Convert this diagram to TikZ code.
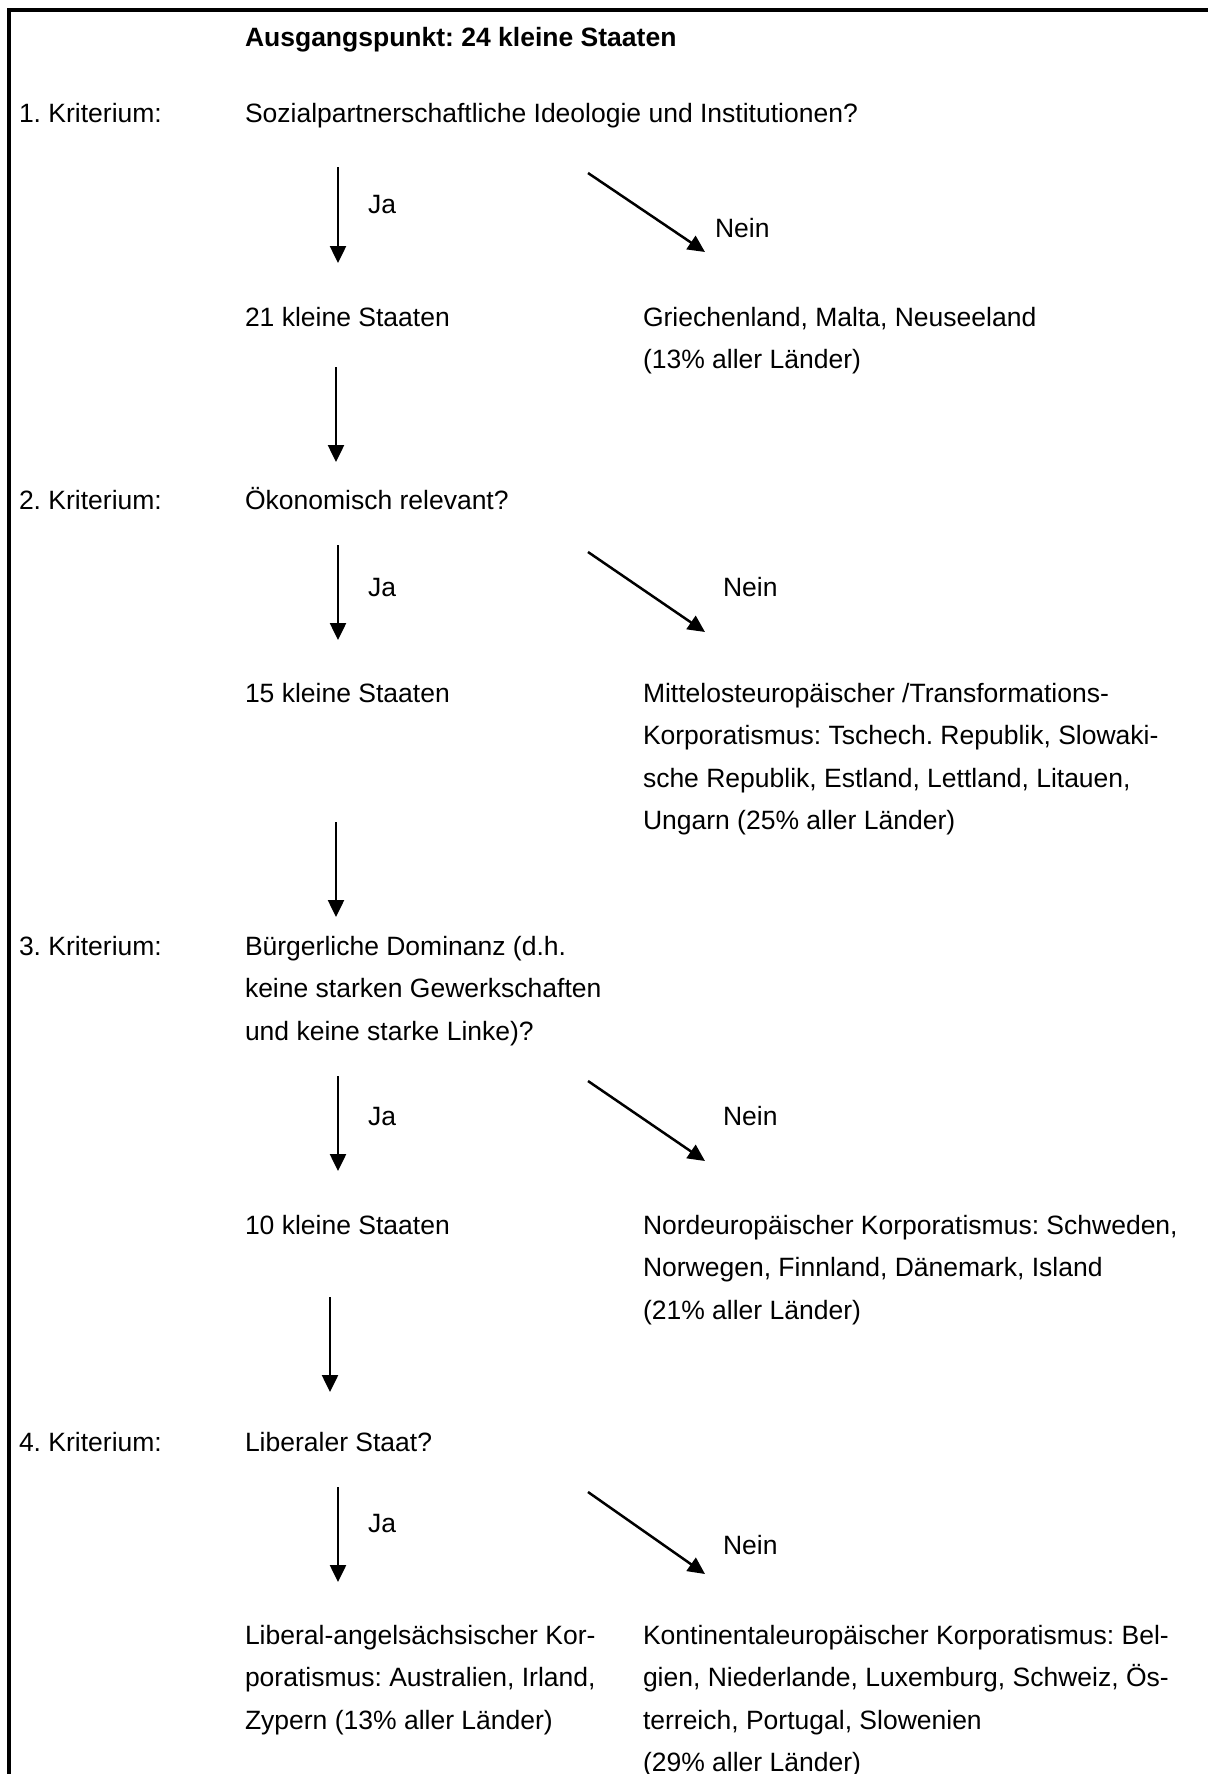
\documentclass[tikz,border=0pt]{standalone}
\usepackage{fontspec}
\setmainfont{Liberation Sans}
\usetikzlibrary{arrows.meta}
\frenchspacing
\begin{document}
\begin{tikzpicture}[x=1pt,y=-1pt,
  txt/.style={anchor=base west,inner sep=0pt,outer sep=0pt,font=\fontsize{26.5}{42.5}\selectfont},
  ttl/.style={txt,font=\fontsize{26.5}{42.5}\selectfont\bfseries},
  arr/.style={line width=2.5pt,-{Triangle[length=17pt,width=16pt]}},
  frame/.style={line width=3.5pt}]
\useasboundingbox (0,0) rectangle (1208,1774);
% frame
\coordinate (fb) at (9,1774);
\coordinate (ft) at (9,10);
\coordinate (fr) at (1208,10);
\draw[frame] (fb) -- (ft) -- (fr);
% texts
\newcommand{\lns}[1]{\begin{tabular}[t]{@{}l@{}}#1\end{tabular}}
\node[ttl] (title) at (245,47) {Ausgangspunkt: 24 kleine Staaten};
\node[txt] (k1) at (19,123) {1. Kriterium:};
\node[txt] (q1) at (245,123) {Sozialpartnerschaftliche Ideologie und Institutionen?};
\node[txt] (ja1) at (368,213) {Ja};
\node[txt] (nein1) at (715,237) {Nein};
\node[txt] (s21) at (245,326) {21 kleine Staaten};
\node[txt] (gr) at (643,326) {\lns{Griechenland, Malta, Neuseeland\\(13\% aller Länder)}};
\node[txt] (k2) at (19,509) {2. Kriterium:};
\node[txt] (q2) at (245,509) {Ökonomisch relevant?};
\node[txt] (ja2) at (368,596) {Ja};
\node[txt] (nein2) at (723,596) {Nein};
\node[txt] (s15) at (245,702) {15 kleine Staaten};
\node[txt] (mo) at (643,702) {\lns{Mittelosteuropäischer /Transformations-\\Korporatismus: Tschech. Republik, Slowaki-\\sche Republik, Estland, Lettland, Litauen,\\Ungarn (25\% aller Länder)}};
\node[txt] (k3) at (19,955) {3. Kriterium:};
\node[txt] (q3) at (245,955) {\lns{Bürgerliche Dominanz (d.h.\\keine starken Gewerkschaften\\und keine starke Linke)?}};
\node[txt] (ja3) at (368,1125) {Ja};
\node[txt] (nein3) at (723,1125) {Nein};
\node[txt] (s10) at (245,1234) {10 kleine Staaten};
\node[txt] (nord) at (643,1234) {\lns{Nordeuropäischer Korporatismus: Schweden,\\Norwegen, Finnland, Dänemark, Island\\(21\% aller Länder)}};
\node[txt] (k4) at (19,1451) {4. Kriterium:};
\node[txt] (q4) at (245,1451) {Liberaler Staat?};
\node[txt] (ja4) at (368,1532) {Ja};
\node[txt] (nein4) at (723,1554) {Nein};
\node[txt] (lib) at (245,1644) {\lns{Liberal-angelsächsischer Kor-\\poratismus: Australien, Irland,\\Zypern (13\% aller Länder)}};
\node[txt] (kont) at (643,1644) {\lns{Kontinentaleuropäischer Korporatismus: Bel-\\gien, Niederlande, Luxemburg, Schweiz, Ös-\\terreich, Portugal, Slowenien\\(29\% aller Länder)}};
% arrow end points
\coordinate (a1s) at (338,167);  \coordinate (a1e) at (338,263);
\coordinate (a2s) at (336,367);  \coordinate (a2e) at (336,462);
\coordinate (a3s) at (338,545);  \coordinate (a3e) at (338,640);
\coordinate (a4s) at (336,822);  \coordinate (a4e) at (336,917);
\coordinate (a5s) at (338,1076); \coordinate (a5e) at (338,1171);
\coordinate (a6s) at (330,1297); \coordinate (a6e) at (330,1392);
\coordinate (a7s) at (338,1487); \coordinate (a7e) at (338,1582);
\coordinate (d1s) at (588,173);  \coordinate (d1e) at (705,252);
\coordinate (d2s) at (588,552);  \coordinate (d2e) at (705,632);
\coordinate (d3s) at (588,1081); \coordinate (d3e) at (705,1161);
\coordinate (d4s) at (588,1492); \coordinate (d4e) at (705,1574);
\foreach \i in {1,...,7} {\draw[arr] (a\i s) -- (a\i e);}
\foreach \i in {1,...,4} {\draw[arr] (d\i s) -- (d\i e);}
\end{tikzpicture}
\end{document}
